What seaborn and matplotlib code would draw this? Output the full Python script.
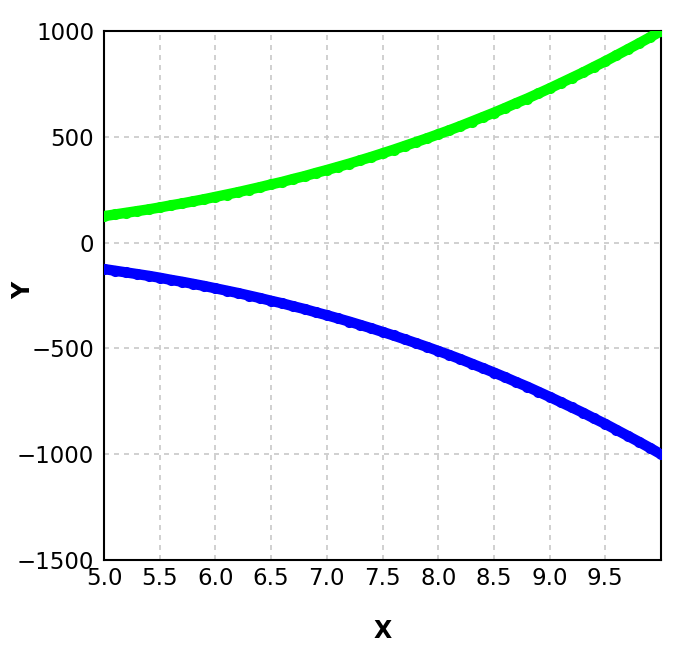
import matplotlib
matplotlib.use("Agg")
import matplotlib.pyplot as plt
import seaborn as sns
import pandas as pd

x_vals = [5.0, 5.1, 5.2, 5.3, 5.4, 5.5, 5.6, 5.7, 5.8, 5.9,
          6.0, 6.1, 6.2, 6.3, 6.4, 6.5, 6.6, 6.7, 6.8, 6.9,
          7.0, 7.1, 7.2, 7.3, 7.4, 7.5, 7.6, 7.7, 7.8, 7.9,
          8.0, 8.1, 8.2, 8.3, 8.4, 8.5, 8.6, 8.7, 8.8, 8.9,
          9.0, 9.1, 9.2, 9.3, 9.4, 9.5, 9.6, 9.7, 9.8, 9.9, 10.0]
green_y = [125, 133, 141, 149, 157, 166, 176, 185, 195, 205,
           216, 227, 238, 250, 262, 275, 287, 301, 314, 329,
           343, 358, 373, 389, 405, 422, 439, 457, 475, 493,
           512, 531, 551, 572, 593, 614, 636, 659, 681, 705,
           729, 754, 779, 804, 831, 857, 885, 913, 941, 970, 1000]
blue_y = [-125, -133, -141, -149, -157, -166, -176, -185, -195, -205,
          -216, -227, -238, -250, -262, -275, -287, -301, -314, -329,
          -343, -358, -373, -389, -405, -422, -439, -457, -475, -493,
          -512, -531, -551, -572, -593, -614, -636, -659, -681, -705,
          -729, -754, -779, -804, -831, -857, -885, -913, -941, -970, -1000]
x_ticks = [5.0, 5.5, 6.0, 6.5, 7.0, 7.5, 8.0, 8.5, 9.0, 9.5]
x_tick_labels = ["5.0", "5.5", "6.0", "6.5", "7.0", "7.5", "8.0", "8.5", "9.0", "9.5"]
y_ticks = [-1500, -1000, -500, 0, 500, 1000]
y_tick_labels = ["\u22121500", "\u22121000", "\u2212500", "0", "500", "1000"]

df = pd.DataFrame({"x": x_vals + x_vals,
                   "y": green_y + blue_y,
                   "s": ["green"] * len(x_vals) + ["blue"] * len(x_vals)})

sns.set_style("white")
plt.rcParams["font.family"] = ["DejaVu Sans"]

fig = plt.figure(figsize=(6.94, 6.56), dpi=100)
ax = fig.add_axes([104 / 694, 96 / 656, 557 / 694, 529 / 656])

sns.lineplot(data=df, x="x", y="y", hue="s",
             palette={"green": "#00ff00", "blue": "#0000ff"},
             linewidth=7.5, marker="o", markersize=8, markeredgewidth=0,
             legend=False, ax=ax, zorder=3)

ax.set_xlim(5, 10)
ax.set_ylim(-1500, 1000)
ax.set_xticks(x_ticks)
ax.set_xticklabels(x_tick_labels)
ax.set_yticks(y_ticks)
ax.set_yticklabels(y_tick_labels)
ax.tick_params(axis="both", length=0, labelsize=16.5, colors="black")
ax.tick_params(axis="y", pad=7)
ax.tick_params(axis="x", pad=5)
ax.grid(True, color="#c8c8c8", linestyle=(0, (3, 3)), linewidth=1.2)
for sp in ax.spines.values():
    sp.set_color("black")
    sp.set_linewidth(1.5)
ax.set_xlabel("X", fontsize=17, fontweight="bold", color="black")
ax.set_ylabel("Y", fontsize=17, fontweight="bold", color="black")
ax.xaxis.set_label_coords(0.501, -0.111)
ax.yaxis.set_label_coords(-0.124, 0.51)

fig.savefig("out.png", dpi=100)
